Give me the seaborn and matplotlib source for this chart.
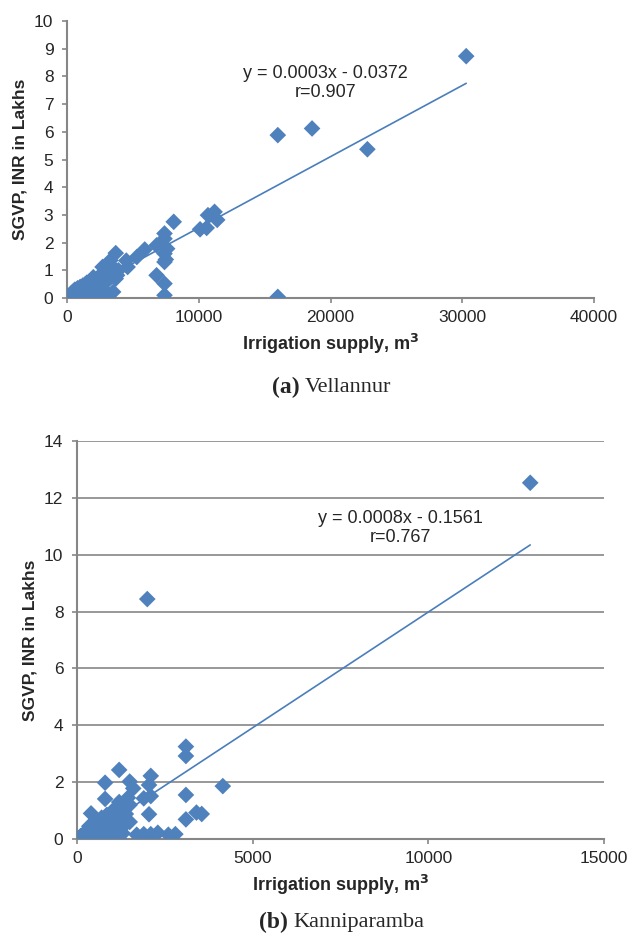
import matplotlib
matplotlib.use("Agg")
import matplotlib.pyplot as plt
import seaborn as sns
import pandas as pd

# Vellannur: irrigation supply (m3) vs SGVP (INR lakhs)
vel_supply = [300, 400, 500, 600, 600, 700, 800, 900, 900, 1000, 1000, 1100, 1200, 1200,
              1300, 1400, 1400, 1500, 1500, 1600, 1700, 1700, 1800, 1900, 1900, 2000, 2000,
              2100, 2200, 2300, 2300, 2400, 2500, 2600, 2700, 2700, 2800, 2900, 3000, 3000,
              3100, 3200, 3300, 3400, 3500, 3600, 3700, 3800, 3900, 4500, 4600, 5300, 5900,
              3700, 3300, 2700, 3500, 2800, 6800, 6800, 7400, 7400, 7600, 7400, 7500, 7400,
              7400, 7400, 8100, 10100, 10600, 10700, 11200, 11400, 16000, 18600, 22800,
              16000, 30300]
vel_sgvp = [0.15, 0.2, 0.25, 0.1, 0.3, 0.2, 0.35, 0.1, 0.3, 0.4, 0.2, 0.05, 0.45, 0.25,
            0.35, 0.5, 0.15, 0.55, 0.3, 0.4, 0.6, 0.2, 0.5, 0.65, 0.05, 0.35, 0.75,
            0.55, 0.45, 0.7, 0.25, 0.6, 0.8, 0.5, 0.9, 0.35, 0.7, 1.0, 0.6, 0.85,
            1.2, 0.95, 0.75, 1.1, 0.9, 1.05, 0.7, 0.82, 1.0, 1.35, 1.12, 1.48, 1.75,
            1.62, 1.36, 1.12, 0.22, 0.04, 1.9, 0.82, 2.33, 2.14, 1.78, 1.6, 1.39, 1.3,
            0.52, 0.1, 2.75, 2.48, 2.53, 2.99, 3.11, 2.82, 5.88, 6.12, 5.37,
            0.04, 8.73]
vel_fit = (0.000257, -0.0372)

# Kanniparamba
kan_supply = [100, 200, 200, 300, 300, 350, 400, 400, 450, 500, 500, 550, 600, 600, 650,
              700, 700, 750, 800, 800, 800, 850, 900, 900, 950, 1000, 1000, 1000, 1050,
              1100, 1100, 1100, 1150, 1200, 1200, 1200, 1250, 1300, 1300, 1300, 1350, 1400,
              1450, 1500, 1500, 1390, 400, 800, 800, 1200, 1500, 1600, 1900, 2050, 2100,
              2100, 2050, 1700, 1900, 2100, 2300, 2600, 2800, 3100, 3100, 3100, 3100,
              3400, 3550, 4150, 2000, 12900]
kan_sgvp = [0.1, 0.0, 0.2, 0.1, 0.3, 0.45, 0.0, 0.2, 0.35, 0.5, 0.1, 0.3, 0.0, 0.6, 0.2,
            0.45, 0.75, 0.1, 0.0, 0.3, 0.6, 0.85, 0.15, 0.45, 0.7, 0.0, 0.3, 0.95, 0.55,
            0.15, 0.8, 1.1, 0.35, 0.0, 0.6, 1.3, 0.9, 0.2, 0.45, 1.0, 0.7, 0.55,
            1.45, 1.2, 0.6, 0.88, 0.9, 1.98, 1.41, 2.43, 2.02, 1.78, 1.43, 1.9, 2.22,
            1.51, 0.87, 0.15, 0.17, 0.17, 0.22, 0.15, 0.17, 3.25, 2.92, 1.55, 0.69,
            0.93, 0.88, 1.86, 8.44, 12.53]
kan_fit = (0.000814, -0.1561)

vel_xticks = [0, 10000, 20000, 30000, 40000]
vel_yticks = list(range(0, 11))
kan_xticks = [0, 5000, 10000, 15000]
kan_yticks = [0, 2, 4, 6, 8, 10, 12, 14]

point_color = "#4F81BD"
line_color = "#4A7EBB"
axis_color = "#868686"

sns.set_style("white")
plt.rcParams["font.family"] = ["Liberation Sans", "DejaVu Sans"]


def draw_panel(ax, supply, sgvp, fit, xticks, yticks, eq_text, eq_pos, grid):
    df = pd.DataFrame({"supply": supply, "sgvp": sgvp})
    sns.scatterplot(data=df, x="supply", y="sgvp", marker="D", s=72,
                    color=point_color, edgecolor="none", ax=ax, zorder=3)
    # trend line over the data range
    line_df = pd.DataFrame({"supply": [min(supply), max(supply)]})
    line_df["sgvp"] = fit[0] * line_df["supply"] + fit[1]
    sns.lineplot(data=line_df, x="supply", y="sgvp", color=line_color, lw=1.2,
                 ax=ax, zorder=2)

    ax.set_xlim(xticks[0], xticks[-1])
    ax.set_ylim(yticks[0], yticks[-1])
    ax.set_xticks(xticks)
    ax.set_yticks(yticks)
    ax.tick_params(axis="both", labelsize=12.5, color=axis_color, length=3.8,
                   width=1.2, direction="out", bottom=True, left=True)
    ax.tick_params(axis="x", pad=5)
    ax.tick_params(axis="y", pad=6)
    for side in ["top", "right"]:
        ax.spines[side].set_visible(False)
    for side in ["left", "bottom"]:
        ax.spines[side].set_color(axis_color)
        ax.spines[side].set_linewidth(1.5)
    if grid:
        ax.yaxis.grid(True, color=axis_color, lw=1.2)
        ax.set_axisbelow(True)

    ax.set_xlabel("Irrigation supply, m$^\\mathbf{3}$", fontsize=13,
                  fontweight="bold", labelpad=5)
    ax.set_ylabel("SGVP, INR in Lakhs", fontsize=12.5, fontweight="bold", labelpad=5)
    ax.text(eq_pos[0], eq_pos[1], eq_text, ha="center", va="center",
            fontsize=13, linespacing=1.15)


fig = plt.figure(figsize=(6.31, 9.34), dpi=100)
W, H = 631, 934
ax1 = fig.add_axes([67 / W, 1 - 298 / H, (594 - 67) / W, (298 - 21) / H])
ax2 = fig.add_axes([77 / W, 1 - 839 / H, (604 - 77) / W, (839 - 441) / H])

draw_panel(ax1, vel_supply, vel_sgvp, vel_fit, vel_xticks, vel_yticks,
           "y = 0.0003x - 0.0372\nr=0.907", (19600, 7.75), grid=False)
draw_panel(ax2, kan_supply, kan_sgvp, kan_fit, kan_xticks, kan_yticks,
           "y = 0.0008x - 0.1561\nr=0.767", (9200, 10.95), grid=True)

# panel captions
serif = ["Liberation Serif", "DejaVu Serif"]
fig.text(300 / W, 1 - 387 / H, "(a)", ha="right", va="center", fontsize=17,
         fontweight="bold", family=serif)
fig.text(305 / W, 1 - 387 / H, "Vellannur", ha="left", va="center", fontsize=16,
         family=serif)
fig.text(288 / W, 1 - 922 / H, "(b)", ha="right", va="center", fontsize=17,
         fontweight="bold", family=serif)
fig.text(293 / W, 1 - 922 / H, "Kanniparamba", ha="left", va="center", fontsize=16,
         family=serif)

fig.savefig("out.png", dpi=100)
